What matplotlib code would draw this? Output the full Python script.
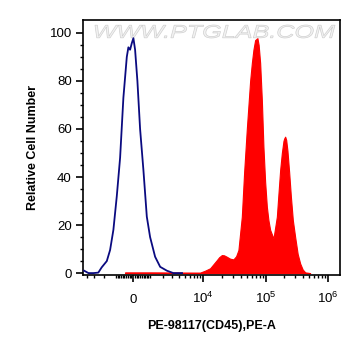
import matplotlib
matplotlib.use("Agg")
import matplotlib.pyplot as plt
from matplotlib.textpath import TextPath
from matplotlib.patches import PathPatch
from matplotlib.font_manager import FontProperties
from matplotlib.transforms import Affine2D
import numpy as np

plt.rcParams['font.family'] = ['Liberation Sans', 'DejaVu Sans']
plt.rcParams['mathtext.fontset'] = 'custom'
plt.rcParams['mathtext.rm'] = 'Liberation Sans'

# unstained control (blue line)
ctrl_x = [-4480, -3780, -3080, -2520, -2170, -1710, -1445, -1200, -967, -754,
          -554, -355, -264, -168, -73, 17, 112, 242, 396, 590, 800, 1014,
          1370, 1778, 2415, 3170, 4480]
ctrl_y = [1.0, 0.0, 0.0, 0.2, 2.4, 5.0, 9.6, 18, 32, 48, 73, 90, 94, 93,
          95.7, 97.8, 93, 80, 60, 43, 23.5, 15, 6.8, 2.6, 1.0, 0.0, 0.0]

# stained sample (red fill)
pe_x = [-454, 1014, 8890, 10700, 12900, 14400, 16550, 18000, 19900, 21600,
        23900, 27000, 30500, 33700, 36700, 41600, 45300, 50000, 56500,
        60200, 63800, 67900, 73900, 77300, 81700, 87000, 92200, 98200,
        104600, 110900, 118100, 133400, 151200, 160300, 170800, 181700,
        192800, 197800, 205200, 213000, 223200, 237800, 253200, 272400,
        296700, 325300, 356700, 391100, 429200, 515800]
pe_y = [0.3, 0.3, 0.2, 1.0, 2.0, 3.5, 5.4, 6.6, 7.5, 7.4,
        6.8, 6.0, 5.7, 7.0, 9.6, 23.5, 42, 60, 80,
        87.5, 93, 97, 97.8, 95, 87.5, 72, 52.6, 38,
        27.6, 22, 18, 14.4, 23.5, 33, 43, 50,
        55, 56, 56.8, 55.5, 51, 42, 32, 22,
        15, 8, 4, 1.5, 0.3, 0.0]

major_ticks = [0, 1e4, 1e5, 1e6]
major_labels = ['0', r'$10^4$', r'$10^5$', r'$10^6$']
minor_ticks = ([-4000, -3000, -2000, -1000]
               + [-900, -800, -700, -600, -500, -400, -300, -200, -100,
                  100, 200, 300, 400, 500, 600, 700, 800, 900]
               + [m * 10 ** e for e in (3, 4, 5) for m in range(2, 10)]
               + [1000])

fig = plt.figure(figsize=(3.61, 3.56), dpi=100)
ax = fig.add_axes([0.23, 0.2275, 0.712, 0.7165])
ax.set_facecolor('none')
ax.set_xscale('asinh', linear_width=1518)

ax.fill_between(pe_x, pe_y, 0, color='#ff0000', lw=0.8, zorder=2)
ax.plot(ctrl_x, ctrl_y, color='#0a0a80', lw=1.3, zorder=3)

ax.set_xlim(-4675, 1.55e6)
ax.set_ylim(-0.8, 105.4)

ax.set_xticks(major_ticks)
ax.set_xticklabels(major_labels)
ax.set_xticks(minor_ticks, minor=True)
ax.set_yticks(range(0, 101, 20))
ax.set_yticks(range(0, 101, 5), minor=True)

ax.tick_params(axis='both', which='major', length=5, width=1.2,
               labelsize=9.5, direction='out')
ax.tick_params(axis='both', which='minor', length=2.5, width=1,
               direction='out')
ax.tick_params(axis='x', which='major', pad=15)
ax.tick_params(axis='y', which='major', pad=3)
for lab in ax.get_xticklabels():
    lab.set_verticalalignment('baseline')

for s in ax.spines.values():
    s.set_linewidth(1.2)

ax.set_xlabel('PE-98117(CD45),PE-A', fontsize=9, fontweight='bold',
              labelpad=10)
ax.set_ylabel('Relative Cell Number', fontsize=9, fontweight='bold',
              labelpad=8)

# watermark, stretched to fit the box seen in the picture (pixels), behind the axes
tp = TextPath((0, 0), 'WWW.PTGLAB.COM', size=10,
              prop=FontProperties(family='Liberation Sans', style='italic'))
bb = tp.get_extents()
wx0, wx1, wy0, wy1 = 95, 335, 318, 331
tr = (Affine2D().translate(-bb.x0, -bb.y0)
      .scale((wx1 - wx0) / bb.width, (wy1 - wy0) / bb.height)
      .translate(wx0, wy0))
wm = PathPatch(tp, transform=tr, facecolor='#f2f2f2', edgecolor='#cfcfcf',
               lw=0.5, zorder=-1)
fig.patches.append(wm)

fig.savefig('out.png', dpi=100)
